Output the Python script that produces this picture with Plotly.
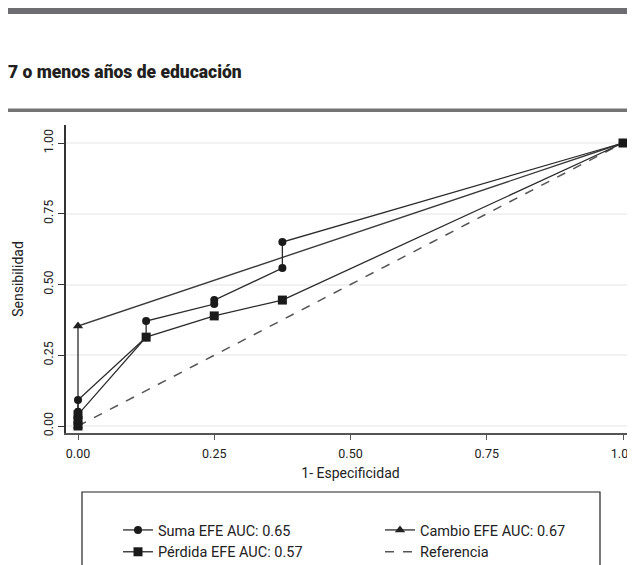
import plotly.graph_objects as go

# ---- data ----
suma_x = [0, 0, 0, 0, 0.125, 0.125, 0.25, 0.25, 0.375, 0.375, 1.0]
suma_y = [0, 0.02, 0.05, 0.092, 0.314, 0.371, 0.431, 0.445, 0.558, 0.650, 1.0]

perdida_x = [0, 0, 0, 0.125, 0.25, 0.375, 1.0]
perdida_y = [0, 0.02, 0.04, 0.314, 0.389, 0.445, 1.0]

cambio_x = [0, 0, 1.0]
cambio_y = [0, 0.353, 1.0]

ref_x = [0, 1.0]
ref_y = [0, 1.0]

tick_vals = [0, 0.25, 0.5, 0.75, 1.0]
tick_text = ["0.00", "0.25", "0.50", "0.75", "1.00"]

names = ["Suma EFE AUC: 0.65", "Cambio EFE AUC: 0.67",
         "Pérdida EFE AUC: 0.57", "Referencia"]

title_text = "7 o menos años de educación"
x_title = "1- Especificidad"
y_title = "Sensibilidad"

FONT = "Roboto, sans-serif"

# The page body has an 8px margin, so the figure is 8px smaller and
# all positions below are given in screen pixels, converted with OFF.
OFF = 8
W, H = 635 - OFF, 565 - OFF
L, R, T, B = 66 - OFF, 0, 125 - OFF, H - (433 - OFF)
pw = W - L - R
ph = H - T - B

X0_SCR, X1_SCR = 78, 623   # screen px of x=0 and x=1
Y0_SCR, Y1_SCR = 426, 143  # screen px of y=0 and y=1


def px_x(p):
    return (p - OFF - L) / pw


def px_y(p):
    return (H - B - (p - OFF)) / ph


xs = (X1_SCR - X0_SCR)
ys = (Y0_SCR - Y1_SCR)
x_range = [(66 - X0_SCR) / xs, (635 - X0_SCR) / xs]
y_range = [(Y0_SCR - 433) / ys, (Y0_SCR - 125) / ys]

fig = go.Figure()

fig.add_trace(go.Scatter(
    x=ref_x, y=ref_y, mode="lines", name=names[3],
    line=dict(color="#555555", width=1.5, dash="dash"),
    legendrank=4))

fig.add_trace(go.Scatter(
    x=cambio_x, y=cambio_y, mode="lines+markers", name=names[1],
    line=dict(color="#3a3a3a", width=1.4),
    marker=dict(symbol="triangle-up", size=9, color="#222222"),
    legendrank=2))

fig.add_trace(go.Scatter(
    x=perdida_x, y=perdida_y, mode="lines+markers", name=names[2],
    line=dict(color="#2a2a2a", width=1.3),
    marker=dict(symbol="square", size=9, color="#1a1a1a"),
    legendrank=3))

fig.add_trace(go.Scatter(
    x=suma_x, y=suma_y, mode="lines+markers", name=names[0],
    line=dict(color="#2a2a2a", width=1.3),
    marker=dict(symbol="circle", size=8, color="#1a1a1a"),
    legendrank=1))

shapes = [
    # header bar
    dict(type="rect", xref="paper", yref="paper",
         x0=px_x(8), x1=px_x(636), y0=px_y(14), y1=px_y(8),
         fillcolor="#6c6c71", line=dict(width=0), layer="above"),
    # rule under title
    dict(type="rect", xref="paper", yref="paper",
         x0=px_x(8), x1=px_x(636), y0=px_y(112), y1=px_y(108.5),
         fillcolor="#747474", line=dict(width=0), layer="above"),
    # legend box
    dict(type="rect", xref="paper", yref="paper",
         x0=px_x(82), x1=px_x(600), y0=px_y(575), y1=px_y(492),
         fillcolor="rgba(0,0,0,0)", line=dict(color="#222222", width=1.2)),
]

fig.update_layout(
    width=W, height=H,
    margin=dict(l=L, r=R, t=T, b=B, autoexpand=False),
    paper_bgcolor="white", plot_bgcolor="white",
    font=dict(family=FONT, size=12.5, color="#222222"),
    showlegend=True,
    title=dict(text=title_text, xref="container", yref="container",
               x=0, y=1 - (72 - OFF) / H, xanchor="left", yanchor="middle",
               pad=dict(l=0, r=0, t=0, b=0),
               font=dict(family=FONT, size=17.5, color="#231f20", weight=900)),
    shapes=shapes,
    legend=dict(orientation="h", x=px_x(118), y=px_y(514), xanchor="left", yanchor="top",
                entrywidth=217, entrywidthmode="pixels", bgcolor="rgba(0,0,0,0)",
                font=dict(family=FONT, size=14.5, color="#222222"),
                traceorder="normal", tracegroupgap=0),
    xaxis=dict(range=x_range,
               tickvals=tick_vals, ticktext=tick_text,
               showline=True, linecolor="#555555", linewidth=1.5,
               ticks="outside", ticklen=5, tickcolor="#555555", tickwidth=1.2,
               showgrid=False, zeroline=False, ticklabelstandoff=3,
               ticklabeloverflow="allow",
               tickfont=dict(size=12.5),
               title=dict(text=x_title, font=dict(size=14), standoff=8)),
    yaxis=dict(range=y_range,
               tickvals=tick_vals, ticktext=tick_text, tickangle=-90,
               showline=True, linecolor="#333333", linewidth=1.5,
               ticks="outside", ticklen=6, tickcolor="#333333", tickwidth=1.2,
               showgrid=True, gridcolor="#f2f2f2", gridwidth=2, zeroline=False,
               tickfont=dict(size=12.5),
               title=dict(text=y_title, font=dict(size=14), standoff=14)),
)

fig.write_html("out.html")
